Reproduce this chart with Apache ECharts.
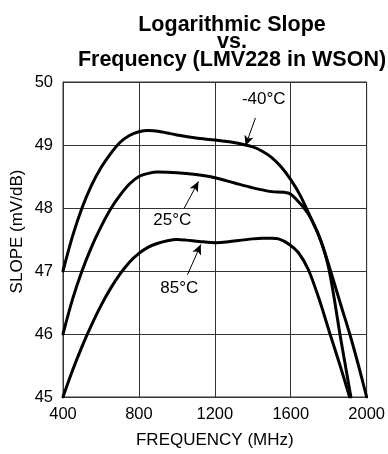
<!DOCTYPE html>
<html>
<head>
<meta charset="utf-8">
<script src="https://cdn.jsdelivr.net/npm/echarts@6/dist/echarts.min.js"></script>
<style>
html,body{margin:0;padding:0;background:#fff;}
#chart{width:388px;height:454px;}
</style>
</head>
<body>
<div id="chart"></div>
<script>
// ---- data ----
var titleText = 'Logarithmic Slope\nvs.\nFrequency (LMV228 in WSON)';
var xName = 'FREQUENCY (MHz)';
var yName = 'SLOPE (mV/dB)';
var xTicks = [400, 800, 1200, 1600, 2000];
var yTicks = [45, 46, 47, 48, 49, 50];

var freqM40 = [400,450,500,550,600,650,700,750,800,850,900,950,1000,1100,1200,1300,1400,1450,1500,1550,1600,1650,1700,1740,1770,1800,1830,1859,1888,1917];
var slopeM40 = [47.0,47.55,48.0,48.36,48.64,48.86,49.04,49.15,49.21,49.23,49.22,49.19,49.16,49.11,49.08,49.04,48.97,48.9,48.8,48.65,48.45,48.2,47.88,47.62,47.38,47.05,46.55,46.0,45.5,45.0];

var freq25 = [400,450,500,550,600,650,700,750,800,850,900,1000,1100,1200,1300,1400,1500,1560,1600,1650,1700,1740,1770,1810,1860,1911,1957,2000];
var slope25 = [46.0,46.55,47.0,47.38,47.7,47.98,48.2,48.38,48.5,48.55,48.57,48.56,48.53,48.48,48.4,48.32,48.26,48.25,48.22,48.07,47.87,47.62,47.38,47.0,46.5,46.0,45.5,45.0];

var freq85 = [400,450,500,550,600,650,700,750,800,850,900,950,1000,1050,1117,1206,1260,1311,1400,1450,1500,1536,1589,1641,1693,1750,1807,1860,1910];
var slope85 = [45.0,45.42,45.8,46.14,46.45,46.72,46.95,47.14,47.28,47.38,47.44,47.48,47.5,47.49,47.47,47.45,47.46,47.48,47.51,47.52,47.52,47.51,47.43,47.29,47.02,46.55,46.0,45.5,45.0];

var labels = ['-40°C', '25°C', '85°C'];
var labelAt = [[1458, 49.72], [976, 47.80], [1013, 46.73]];
var arrowFrom = [[1414, 49.43], [1039, 48.0], [1056, 46.94]];
var arrowTo = [[1362, 48.99], [1114, 48.42], [1126, 47.42]];

// ---- chart ----
var FONT = 'Liberation Sans, Arial, sans-serif';
function pairs(xs, ys){ return xs.map(function(x,i){ return [x, ys[i]]; }); }

function makeSeries(name, xs, ys, idx){
  return {
    name: name,
    type: 'line',
    data: pairs(xs, ys),
    smooth: 0.3,
    symbol: 'none',
    lineStyle: {color: '#000', width: 3, join: 'round', cap: 'round'},
    z: 3,
    markLine: {
      silent: true,
      symbol: ['none', 'arrow'],
      symbolSize: [7, 10],
      lineStyle: {color: '#000', width: 1, type: 'solid'},
      label: {show: false},
      data: [[{coord: arrowFrom[idx]}, {coord: arrowTo[idx]}]]
    },
    markPoint: {
      silent: true,
      symbol: 'rect',
      symbolSize: 1,
      itemStyle: {color: 'rgba(0,0,0,0)'},
      label: {show: true, position: 'inside', formatter: labels[idx], color: '#000', fontSize: 17, fontFamily: FONT},
      data: [{coord: labelAt[idx]}]
    }
  };
}

var chart = echarts.init(document.getElementById('chart'), null, {renderer: 'canvas'});
chart.setOption({
  animation: false,
  backgroundColor: '#fff',
  title: {
    text: titleText,
    left: 227,
    top: 11,
    textAlign: 'center',
    textStyle: {fontFamily: FONT, fontWeight: 'bold', fontSize: 21.5, lineHeight: 17.5, color: '#000'}
  },
  grid: {left: 63, right: 19.5, top: 82, bottom: 57, show: true, borderColor: '#333', borderWidth: 1},
  xAxis: {
    type: 'value',
    min: xTicks[0], max: xTicks[xTicks.length-1], interval: 400,
    name: xName, nameLocation: 'middle', nameGap: 35,
    nameTextStyle: {fontFamily: FONT, fontSize: 17, color: '#000'},
    axisLine: {show: true, onZero: false, lineStyle: {color: '#333', width: 1}},
    axisTick: {show: false},
    axisLabel: {fontFamily: FONT, fontSize: 16.5, color: '#000', margin: 9, formatter: function(v){ return String(v); }},
    splitLine: {show: true, lineStyle: {color: '#333', width: 1}}
  },
  yAxis: {
    type: 'value',
    min: yTicks[0], max: yTicks[yTicks.length-1], interval: 1,
    axisLine: {show: true, lineStyle: {color: '#333', width: 1}},
    axisTick: {show: false},
    axisLabel: {fontFamily: FONT, fontSize: 16.5, color: '#000', margin: 10, formatter: function(v){ return String(v); }},
    splitLine: {show: true, lineStyle: {color: '#333', width: 1}}
  },
  graphic: [{
    type: 'text',
    x: 17.5, y: 231.5,
    rotation: Math.PI/2,
    style: {text: yName, fontFamily: FONT, fontSize: 17, fill: '#000', align: 'center', verticalAlign: 'middle'}
  }],
  series: [
    makeSeries('-40°C', freqM40, slopeM40, 0),
    makeSeries('25°C', freq25, slope25, 1),
    makeSeries('85°C', freq85, slope85, 2)
  ]
});
</script>
</body>
</html>
